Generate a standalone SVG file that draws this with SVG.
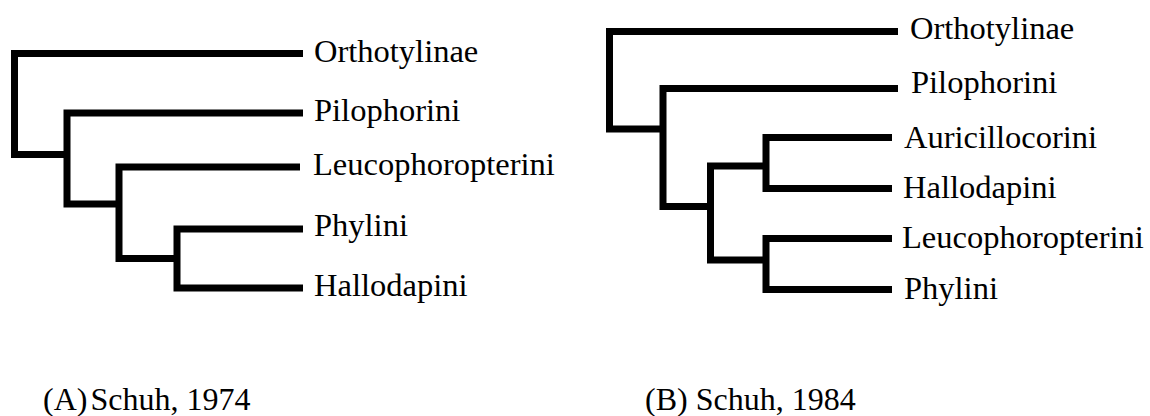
<svg xmlns="http://www.w3.org/2000/svg" width="1150" height="416" viewBox="0 0 1150 416">
<style>
.br{fill:none;stroke:#000;stroke-width:7;stroke-linejoin:miter;stroke-linecap:butt}
.lb{font-family:"Liberation Serif","Times New Roman",serif;font-size:32.5px;fill:#000}
.cp{font-family:"Liberation Serif","Times New Roman",serif;font-size:32px;fill:#000}
</style>
<rect width="1150" height="416" fill="#fff"/>
<g id="connectors">
<path class="br" d="M303,53.5 H14.5 V154.5 H67"/>
<path class="br" d="M303,113 H67 V204 H119"/>
<path class="br" d="M300,167 H119 V258.5 H177"/>
<path class="br" d="M303,229 H177 V288 H303"/>
<path class="br" d="M898,31.5 H609.5 V129 H663"/>
<path class="br" d="M898,88.5 H663 V206.5 H710.5"/>
<path class="br" d="M766,166 H710.5 V260 H766"/>
<path class="br" d="M892,137.5 H766 V188.5 H892"/>
<path class="br" d="M892,238.5 H766 V289.5 H892"/>
</g>
<g id="treeA">
<text id="a-orthotylinae" class="lb" x="314" y="62">Orthotylinae</text>
<text id="a-pilophorini" class="lb" x="314" y="121">Pilophorini</text>
<text id="a-leucophoropterini" class="lb" x="313" y="175">Leucophoropterini</text>
<text id="a-phylini" class="lb" x="314" y="236">Phylini</text>
<text id="a-hallodapini" class="lb" x="314" y="296">Hallodapini</text>
</g>
<g id="treeB">
<text id="b-orthotylinae" class="lb" x="910" y="39">Orthotylinae</text>
<text id="b-pilophorini" class="lb" x="911" y="93">Pilophorini</text>
<text id="b-auricillocorini" class="lb" x="904" y="148">Auricillocorini</text>
<text id="b-hallodapini" class="lb" x="903" y="198">Hallodapini</text>
<text id="b-leucophoropterini" class="lb" x="902" y="248">Leucophoropterini</text>
<text id="b-phylini" class="lb" x="904" y="299">Phylini</text>
</g>
<g id="captions">
<text id="cap-a" class="cp" x="43" y="410">(A)<tspan dx="3">Schuh, 1974</tspan></text>
<text id="cap-b" class="cp" x="645" y="410">(B) Schuh, 1984</text>
</g>
</svg>
